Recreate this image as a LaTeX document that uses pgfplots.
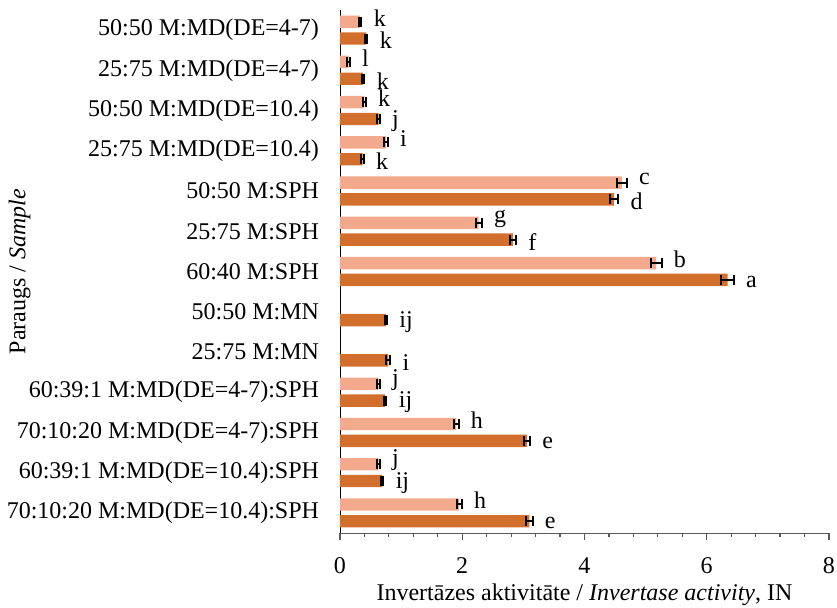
\documentclass[border=0pt]{standalone}
\usepackage{fontspec}
\setmainfont{Liberation Serif}
\usepackage{pgfplots}
\pgfplotsset{compat=1.18}
\usepackage{pgfplotstable}
\definecolor{lightbar}{HTML}{F2A98C}
\definecolor{darkbar}{HTML}{D36F2D}

\pgfplotstableread{
y x err lab
0 0.33 0.02 k
1 0.14 0.02 l
2 0.40 0.02 k
3 0.75 0.03 i
4 4.61 0.08 c
5 2.27 0.05 g
6 5.17 0.09 b
9 0.63 0.02 j
10 1.90 0.04 h
11 0.63 0.02 j
12 1.95 0.04 h
}\lighttab

\pgfplotstableread{
y x err lab
0 0.43 0.02 k
1 0.38 0.02 k
2 0.63 0.02 j
3 0.37 0.02 k
4 4.48 0.07 d
5 2.83 0.05 f
6 6.34 0.10 a
7 0.75 0.02 ij
8 0.79 0.03 i
9 0.74 0.02 ij
10 3.06 0.05 e
11 0.69 0.02 ij
12 3.10 0.05 e
}\darktab

\begin{document}
\fontsize{12pt}{14pt}\selectfont
\begin{tikzpicture}
\path[use as bounding box] (-170pt,-37.5pt) rectangle (248.5pt,266.5pt);
\begin{axis}[
  at={(0,0)}, anchor=south west,
  scale only axis,
  width=244.5pt, height=261.5pt,
  xbar, bar width=6.2pt,
  y dir=reverse,
  xmin=0, xmax=8,
  ymin=-0.5, ymax=12.5,
  axis x line*=bottom, axis y line*=left,
  x axis line style={draw=black!65},
  xtick={0,2,4,6,8},
  minor x tick num=4,
  tick align=outside,
  major tick length=3.3pt, minor tick length=2pt,
  x tick style={draw=black!65, line width=0.6pt},
  xticklabel style={yshift=-5pt},
  /pgf/number format/assume math mode=true,
  ytick={0,...,12},
  yticklabels={50:50 M:MD(DE=4-7),25:75 M:MD(DE=4-7),50:50 M:MD(DE=10.4),25:75 M:MD(DE=10.4),50:50 M:SPH,25:75 M:SPH,60:40 M:SPH,50:50 M:MN,25:75 M:MN,60:39:1 M:MD(DE=4-7):SPH,70:10:20 M:MD(DE=4-7):SPH,60:39:1 M:MD(DE=10.4):SPH,70:10:20 M:MD(DE=10.4):SPH},
  y tick style={draw=none},
  yticklabel style={xshift=-3pt},
  xlabel={Invertāzes aktivitāte / \textit{Invertase activity}, IN},
  xlabel style={at={(axis description cs:0.5,0)}, anchor=center, yshift=-31pt},
  ylabel={Paraugs / \textit{Sample}},
  ylabel style={at={(axis description cs:-0.655,0.5)}, anchor=center, rotate=0},
  clip=false,
  nodes near coords,
  point meta=explicit symbolic,
  visualization depends on={\thisrow{err} \as \myerr},
  nodes near coords style={anchor=west, xshift={\myerr*30.55pt+2pt}, text=black, inner sep=1pt},
  error bars/error bar style={line width=1pt, black},
  error bars/error mark options={rotate=90, mark size=2.5pt, line width=1pt, black},
]
\addplot[draw=none, fill=lightbar, bar shift=4.2pt,
  nodes near coords style={yshift=2pt, xshift=3pt},
  error bars/.cd, x dir=both, x explicit]
  table[x=x, y=y, x error=err, meta=lab] {\lighttab};
\addplot[draw=none, fill=darkbar, bar shift=-4.2pt,
  nodes near coords style={yshift=-1pt, xshift=3pt},
  error bars/.cd, x dir=both, x explicit]
  table[x=x, y=y, x error=err, meta=lab] {\darktab};
\end{axis}
\end{tikzpicture}
\end{document}
